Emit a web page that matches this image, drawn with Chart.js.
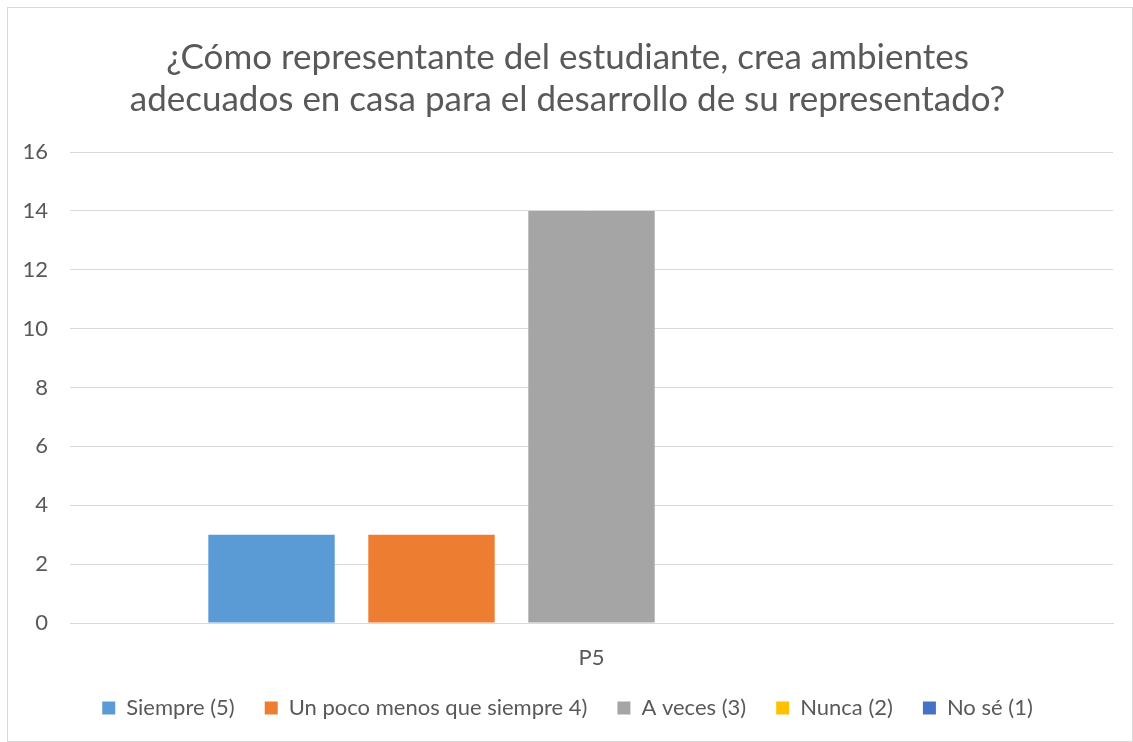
<!DOCTYPE html>
<html>
<head>
<meta charset="utf-8">
<script src="https://cdn.jsdelivr.net/npm/chart.js@4"></script>
<style>
  body { margin: 0; background: #ffffff; }
  #wrap {
    position: absolute; left: 7px; top: 7px;
    width: 1126px; height: 735px;
    box-sizing: border-box; border: 1px solid #d9d9d9;
  }
</style>
</head>
<body>
<div id="wrap"><canvas id="chart"></canvas></div>
<script>
// Chart data
const categories = ['P5'];
const seriesNames = ['Siempre (5)', 'Un poco menos que siempre 4)', 'A veces (3)', 'Nunca (2)', 'No sé (1)'];
const seriesValues = [[3], [3], [14], [0], [0]];
const seriesColors = ['#5b9bd5', '#ed7d31', '#a5a5a5', '#ffc000', '#4472c4'];
const titleLines = ['¿Cómo representante del estudiante, crea ambientes', 'adecuados en casa para el desarrollo de su representado?'];

const fontFamily = 'Lato, "Open Sans", sans-serif';
const textColor = '#595959';

const ctx = document.getElementById('chart').getContext('2d');
const chart = new Chart(ctx, {
  type: 'bar',
  data: {
    labels: categories,
    datasets: seriesNames.map((name, i) => ({
      label: name,
      data: seriesValues[i],
      backgroundColor: seriesColors[i],
      borderWidth: 0,
      barPercentage: 0.79,
      categoryPercentage: 0.767
    }))
  },
  options: {
    responsive: true,
    maintainAspectRatio: false,
    animation: false,
    layout: { padding: { left: 14, right: 19, top: 0, bottom: 12 } },
    plugins: {
      title: {
        display: true,
        text: titleLines,
        color: textColor,
        font: { family: fontFamily, size: 35, weight: 'normal', lineHeight: 1.2 },
        padding: { top: 29, bottom: 31 }
      },
      legend: {
        position: 'bottom',
        labels: {
          color: textColor,
          font: { family: fontFamily, size: 22 },
          boxWidth: 13,
          boxHeight: 13,
          padding: 30
        }
      },
      tooltip: { enabled: false }
    },
    scales: {
      x: {
        grid: { display: false },
        border: { color: '#d9d9d9', width: 1 },
        ticks: { color: textColor, font: { family: fontFamily, size: 22 }, padding: 14 },
        afterFit: (scale) => { scale.height = 44; }
      },
      y: {
        min: 0,
        max: 16,
        ticks: { stepSize: 2, color: textColor, font: { family: fontFamily, size: 22 }, padding: 22 },
        grid: { color: '#d9d9d9', drawTicks: false },
        border: { display: false },
        afterFit: (scale) => { scale.width = 48; }
      }
    }
  }
});
</script>
</body>
</html>
